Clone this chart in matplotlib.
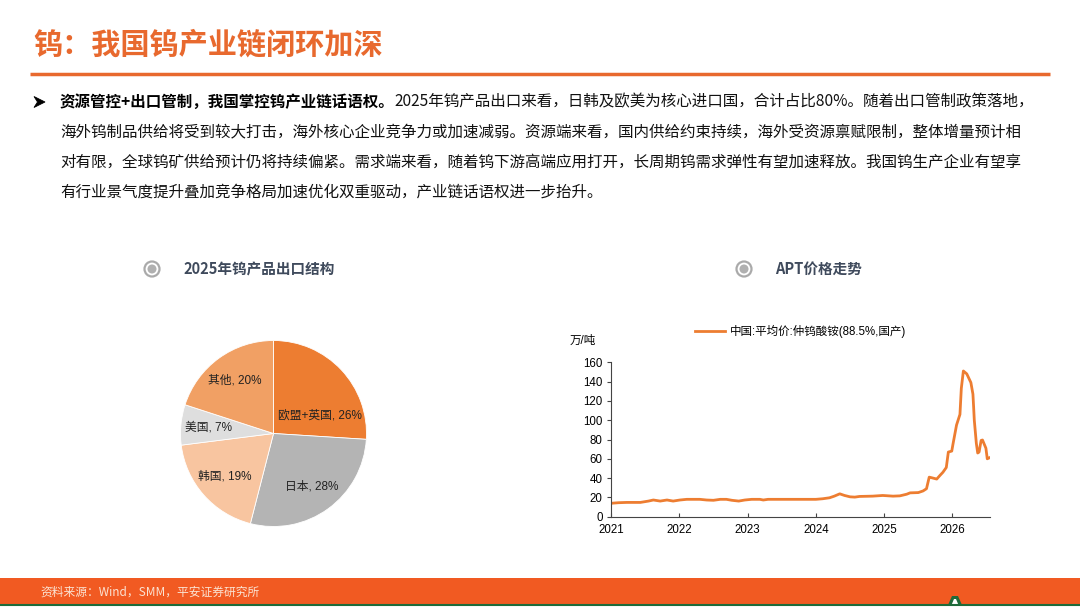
import numpy as np
import matplotlib.pyplot as plt
from matplotlib.patches import Circle, Rectangle, Polygon

plt.rcParams['font.family'] = ['Noto Sans CJK SC', 'DejaVu Sans']
CHART_FONT = ['Liberation Sans', 'Noto Sans CJK SC']

ORANGE = '#E8692E'
LINE_ORANGE = '#ED7D31'
HEAD = '#3F4A5C'

title = '钨：我国钨产业链闭环加深'
bullet_bold = '资源管控+出口管制，我国掌控钨产业链话语权。'
body_lines = [
    '2025年钨产品出口来看，日韩及欧美为核心进口国，合计占比80%。随着出口管制政策落地，',
    '海外钨制品供给将受到较大打击，海外核心企业竞争力或加速减弱。资源端来看，国内供给约束持续，海外受资源禀赋限制，整体增量预计相',
    '对有限，全球钨矿供给预计仍将持续偏紧。需求端来看，随着钨下游高端应用打开，长周期钨需求弹性有望加速释放。我国钨生产企业有望享',
    '有行业景气度提升叠加竞争格局加速优化双重驱动，产业链话语权进一步抬升。',
]
source = '资料来源：Wind，SMM，平安证券研究所'

# pie data
pie_title = '2025年钨产品出口结构'
pie_labels = ['欧盟+英国', '日本', '韩国', '美国', '其他']
pie_values = [26, 28, 19, 7, 20]
pie_colors = ['#ED7D31', '#B4B4B4', '#F8C5A0', '#DEDEDE', '#F1A064']

# APT price (万/吨), decimal years
line_title = 'APT价格走势'
series_name = '中国:平均价:仲钨酸铵(88.5%,国产)'
apt_t = [2021.00, 2021.11, 2021.23, 2021.43, 2021.55, 2021.62, 2021.72, 2021.82, 2021.91,
         2022.01, 2022.11, 2022.30, 2022.40, 2022.50, 2022.60, 2022.69, 2022.77, 2022.87,
         2022.96, 2023.06, 2023.18, 2023.23, 2023.30, 2023.67, 2024.00, 2024.10, 2024.20,
         2024.27, 2024.35, 2024.42, 2024.50, 2024.57, 2024.64, 2024.83, 2024.98, 2025.13,
         2025.23, 2025.33, 2025.38, 2025.50, 2025.57, 2025.62, 2025.66, 2025.70, 2025.77,
         2025.82, 2025.86, 2025.91, 2025.94, 2025.99, 2026.01, 2026.06, 2026.11, 2026.13,
         2026.16, 2026.21, 2026.27, 2026.30, 2026.31, 2026.32, 2026.35, 2026.37, 2026.39,
         2026.42, 2026.44, 2026.49, 2026.51, 2026.54]
apt_v = [13.9, 14.5, 14.8, 14.8, 16.2, 17.3, 16.2, 17.3, 16.2,
         17.3, 18.0, 18.0, 17.3, 17.0, 18.0, 18.0, 17.0, 16.2,
         17.3, 18.0, 18.0, 17.3, 18.0, 18.0, 18.0, 18.6, 19.6,
         21.3, 23.7, 22.0, 20.6, 20.3, 21.0, 21.3, 22.0, 21.3,
         21.6, 23.3, 24.7, 25.0, 26.7, 29.0, 41.0, 40.3, 39.0,
         43.0, 46.0, 51.0, 67.0, 68.0, 76.0, 95.0, 106.0, 133.0,
         151.0, 148.0, 139.0, 127.0, 114.0, 100.0, 76.0, 66.0, 67.0,
         79.0, 79.5, 71.0, 60.0, 61.0]
years = [2021, 2022, 2023, 2024, 2025, 2026]

W, H = 1080, 608
fig = plt.figure(figsize=(W / 100, H / 100), dpi=100)
bg = fig.add_axes([0, 0, 1, 1])
bg.set_xlim(0, W)
bg.set_ylim(H, 0)
bg.axis('off')

# header
bg.text(33, 45, title, fontsize=21, fontweight='bold', color=ORANGE, va='center', ha='left')
bg.plot([30, 1050], [74, 74], color=ORANGE, lw=2.5, solid_capstyle='butt')

# bullet arrowhead
bg.add_patch(Polygon([[34, 96.5], [45, 102], [34, 107.5], [37.5, 102]], closed=True,
                     facecolor='black', edgecolor='black', lw=0.6))
t0 = bg.text(60, 102, bullet_bold, fontsize=11.2, fontweight='bold', color='black', va='center', ha='left')
fig.canvas.draw()
bb = t0.get_window_extent()
x_after = bb.x1  # pixel coords match data coords in x
bg.text(x_after, 102, body_lines[0], fontsize=11.2, color='#111111', va='center', ha='left')
for i, ln in enumerate(body_lines[1:]):
    bg.text(60, 132 + 30 * i, ln, fontsize=11.2, color='#111111', va='center', ha='left')


def section_icon(x, y):
    bg.add_patch(Circle((x, y), 7.5, facecolor='white', edgecolor='#AAAAAA', lw=1.6))
    bg.add_patch(Circle((x, y), 4.5, facecolor='#B0B0B0', edgecolor='none'))


section_icon(152, 269)
bg.text(183, 269, pie_title, fontsize=10.5, fontweight='bold', color=HEAD, va='center', ha='left')
section_icon(744, 269)
bg.text(775, 269, line_title, fontsize=10.5, fontweight='bold', color=HEAD, va='center', ha='left')

# footer
bg.add_patch(Rectangle((0, 578), W, 26, facecolor='#F15A22', edgecolor='none'))
bg.plot([0, W], [605, 605], color='#1E6B3A', lw=1.5)
bg.add_patch(Polygon([[948, 605], [952, 596], [958, 596], [962, 605]], closed=True,
                     facecolor='#1E6B3A', edgecolor='none'))
bg.add_patch(Polygon([[951.5, 605], [954, 599], [956, 599], [958.5, 605]], closed=True,
                     facecolor='white', edgecolor='none'))
bg.text(40, 592, source, fontsize=8.5, color='#FBE3D3', va='center', ha='left')

# pie chart
cx, cy, r = 273.5, 433.5, 93
pax = fig.add_axes([(cx - r) / W, 1 - (cy + r) / H, 2 * r / W, 2 * r / H])
wedges, texts = pax.pie(pie_values, colors=pie_colors, startangle=90, counterclock=False,
                        labels=[f'{l}, {v}%' for l, v in zip(pie_labels, pie_values)],
                        labeldistance=0.7, radius=1.0,
                        wedgeprops=dict(edgecolor='white', linewidth=0.6),
                        textprops=dict(fontsize=8.5, color='#222222', ha='center', va='center',
                                       family=CHART_FONT))
for t in texts:
    t.set_ha('center')
# the wide first label sits lower in the wedge
a = np.deg2rad(21)
texts[0].set_position((0.54 * np.cos(a), 0.54 * np.sin(a)))
pax.set_xlim(-1, 1)
pax.set_ylim(-1, 1)
pax.set_aspect('auto')

# line chart
lax = fig.add_axes([611 / W, 1 - 516.7 / H, (990 - 611) / W, (516.7 - 362.3) / H])
lax.plot(apt_t, apt_v, color=LINE_ORANGE, lw=2.0, label=series_name)
lax.set_xlim(2021, 2026.55)
lax.set_ylim(0, 160)
lax.set_yticks(range(0, 161, 20))
lax.set_xticks(years)
lax.set_xticklabels([str(y) for y in years])
for s in ['top', 'right']:
    lax.spines[s].set_visible(False)
for s in ['left', 'bottom']:
    lax.spines[s].set_color('#444444')
    lax.spines[s].set_linewidth(0.8)
lax.tick_params(axis='x', direction='in', length=3, labelsize=8.3, pad=5, colors='#444444', labelcolor='black')
lax.tick_params(axis='y', direction='out', length=3, labelsize=8.3, pad=3, colors='#444444', labelcolor='black')
for lab in lax.get_xticklabels() + lax.get_yticklabels():
    lab.set_family(CHART_FONT)
lax.text(-0.11, 1.14, '万/吨', transform=lax.transAxes, fontsize=8.3, ha='left', va='center',
         family=CHART_FONT)
lax.legend(loc='center', bbox_to_anchor=(0.5, 1.2), frameon=False,
           prop=dict(family=CHART_FONT, size=8.3), handlelength=2.6, handletextpad=0.4)

fig.savefig('out.png', dpi=100)
